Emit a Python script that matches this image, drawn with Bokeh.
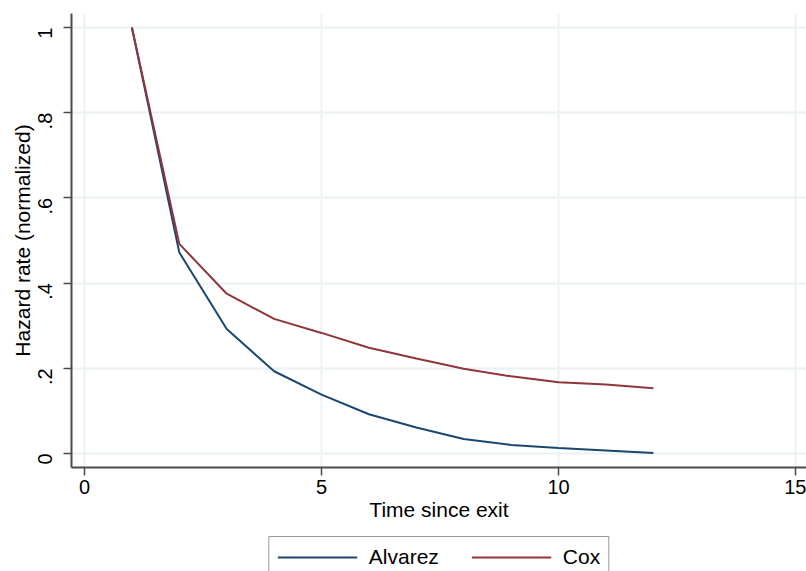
import math
from bokeh.plotting import figure
from bokeh.layouts import column
from bokeh.models import Range1d, FixedTicker, Legend, LegendItem
from bokeh.embed import file_html
from bokeh.resources import INLINE

# Data
time = [1, 2, 3, 4, 5, 6, 7, 8, 9, 10, 11, 12]
alvarez = [1.0, 0.472, 0.292, 0.193, 0.138, 0.092, 0.061, 0.034, 0.020, 0.013, 0.007, 0.001]
cox = [1.0, 0.492, 0.375, 0.316, 0.283, 0.248, 0.223, 0.199, 0.181, 0.167, 0.162, 0.153]

x_ticks = [0, 5, 10, 15]
x_tick_labels = ["0", "5", "10", "15"]
y_ticks = [0, 0.2, 0.4, 0.6, 0.8, 1.0]
y_tick_labels = ["0", ".2", ".4", ".6", ".8", "1"]

x_title = "Time since exit"
y_title = "Hazard rate (normalized)"
series_names = ["Alvarez", "Cox"]
series_colors = ["#1a476f", "#90353b"]

FONT = "Liberation Sans"

p = figure(width=806, height=530, output_backend="svg", toolbar_location=None,
           x_range=Range1d(-0.274, 15.23), y_range=Range1d(-0.033, 1.033),
           min_border_left=71, min_border_right=0, min_border_top=13, min_border_bottom=63)
p.outline_line_color = None
p.background_fill_color = "white"
p.border_fill_color = "white"

r1 = p.line(time, alvarez, line_color=series_colors[0], line_width=2)
r2 = p.line(time, cox, line_color=series_colors[1], line_width=2)

for ax in (p.xaxis[0], p.yaxis[0]):
    ax.axis_line_color = "#4a4a4a"
    ax.axis_line_width = 2
    ax.major_tick_line_color = "#4a4a4a"
    ax.major_tick_line_width = 1.5
    ax.major_tick_out = 8
    ax.major_tick_in = 0
    ax.minor_tick_line_color = None
    ax.major_label_text_font = FONT
    ax.major_label_text_font_size = "20px"
    ax.major_label_text_color = "black"
    ax.axis_label_text_font = FONT
    ax.axis_label_text_font_size = "21px"
    ax.axis_label_text_font_style = "normal"
    ax.axis_label_text_color = "black"

p.xaxis[0].ticker = FixedTicker(ticks=x_ticks)
p.xaxis[0].major_label_overrides = dict(zip(x_ticks, x_tick_labels))
p.xaxis[0].axis_label = x_title
p.xaxis[0].major_label_standoff = 4
p.xaxis[0].axis_label_standoff = 1

p.yaxis[0].ticker = FixedTicker(ticks=y_ticks)
p.yaxis[0].major_label_overrides = dict(zip(y_ticks, y_tick_labels))
p.yaxis[0].axis_label = y_title
p.yaxis[0].major_label_orientation = math.pi / 2
p.yaxis[0].major_label_standoff = 18
p.yaxis[0].axis_label_standoff = -5

for g in (p.xgrid[0], p.ygrid[0]):
    g.grid_line_color = "#eaf2f3"
    g.grid_line_width = 2

# Legend lives in a thin strip below the plot (its lines fall outside that strip's ranges)
lf = figure(width=806, height=41, output_backend="svg", toolbar_location=None,
            x_axis_type=None, y_axis_type=None,
            x_range=Range1d(100, 101), y_range=Range1d(100, 101),
            min_border_left=71, min_border_right=0, min_border_top=0, min_border_bottom=0)
lf.outline_line_color = None
lf.xgrid.visible = False
lf.ygrid.visible = False
lr1 = lf.line(time, alvarez, line_color=series_colors[0], line_width=2)
lr2 = lf.line(time, cox, line_color=series_colors[1], line_width=2)

legend = Legend(items=[LegendItem(label=series_names[0], renderers=[lr1]),
                       LegendItem(label=series_names[1], renderers=[lr2])],
                orientation="horizontal", location="top_center",
                label_text_font=FONT, label_text_font_size="21px",
                label_text_color="black",
                glyph_width=80, glyph_height=20, label_standoff=12,
                spacing=32, padding=8, margin=6,
                border_line_color="#333333", border_line_width=1,
                background_fill_color="white")
lf.add_layout(legend, "center")

layout = column(p, lf, spacing=0)
open("out.html", "w").write(file_html(layout, INLINE))
